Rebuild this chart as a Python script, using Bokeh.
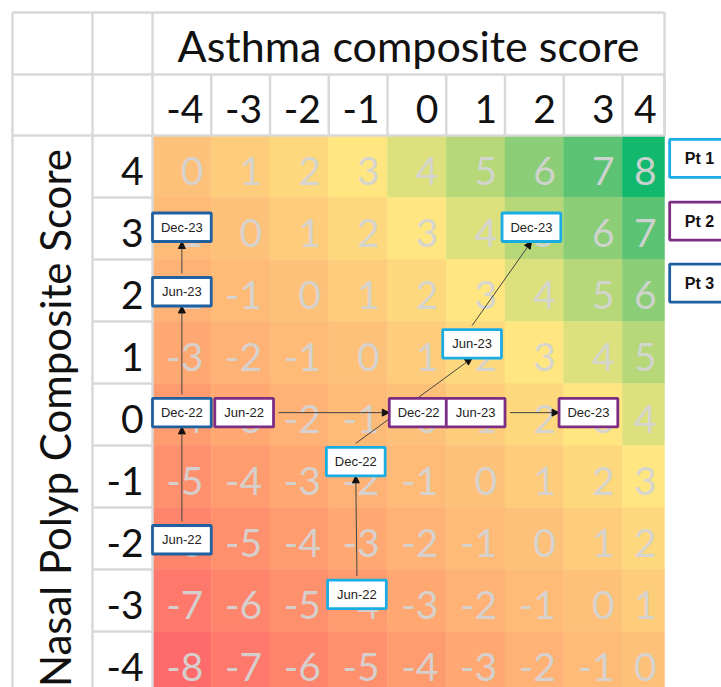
import math
from bokeh.plotting import figure
from bokeh.models import Range1d, ColumnDataSource, Arrow, NormalHead
from bokeh.embed import file_html
from bokeh.resources import INLINE
from bokeh.core.properties import value

# ---------------- data ----------------
asthma_scores = [-4, -3, -2, -1, 0, 1, 2, 3, 4]
nasal_scores = [4, 3, 2, 1, 0, -1, -2, -3, -4]
x_title = "Asthma composite score"
y_title = "Nasal Polyp Composite Score"

# fill colour of a cell by its combined value (-8 .. 8)
value_levels = list(range(-8, 9))
value_colors = ["#FF6B6B", "#FF786C", "#FF846C", "#FF906D", "#FF9C6F", "#FFA872",
                "#FFB275", "#FEBA77", "#FEC17A", "#FECD7B", "#FED87C", "#FFE680",
                "#DCE07D", "#B6D878", "#8BCE77", "#5BC373", "#12B96C"]

patients = ["Pt 1", "Pt 2", "Pt 3"]
patient_colors = ["#1AADE3", "#7E2D84", "#1F60A0"]
visits = ["Jun-22", "Dec-22", "Jun-23", "Dec-23"]
pt1_asthma = [-1, -1, 1, 2]
pt1_nasal = [-3, -1, 1, 3]
pt2_asthma = [-3, 0, 1, 3]
pt2_nasal = [0, 0, 0, 0]
pt3_asthma = [-4, -4, -4, -4]
pt3_nasal = [-2, 0, 2, 3]

# ---------------- layout (display only) ----------------
PXX = 58.75   # px per asthma unit
PXY = 62.0    # px per nasal unit
X0 = -4.5 - 152 / PXX
Y0 = 4.5 + 135 / PXY
def px_x(px):
    return X0 + px / PXX
def px_y(py):
    return Y0 - py / PXY

last_w = 42 / PXX          # last column is narrower
heat_left = -4.5
heat_right = 3.5 + last_w
grid_left = px_x(12)
label_left = px_x(92)
top = px_y(12)
hdr_mid = px_y(74)
heat_top = 4.5
bottom = px_y(700)

# box nudges so labels do not collide
pt_dx = [[-0.02, -0.04, -0.06, -0.05], [0.06, 0.03, 0.0, -0.08], [0, 0, 0, 0]]
pt_dy = [[0.10, 0.24, 0.14, 0.02], [0.03, 0.03, 0.03, 0.03], [-0.02, 0.03, -0.02, 0.02]]

FONT = "Lato"
GRID = "#D9D9D9"

p = figure(width=721, height=687, min_border=0, toolbar_location=None,
           output_backend="svg", x_axis_location=None, y_axis_location=None,
           x_range=Range1d(X0, X0 + 721 / PXX), y_range=Range1d(Y0 - 687 / PXY, Y0))
p.grid.visible = False
p.outline_line_color = None
p.background_fill_color = "white"
p.border_fill_color = "white"

def col_bounds(a):
    left = a - 0.5
    right = a + 0.5 if a < 4 else 3.5 + last_w
    return left, right

# heatmap cells
cx, cy, cw, cc, tx, tt = [], [], [], [], [], []
for n in nasal_scores:
    for a in asthma_scores:
        l, r = col_bounds(a)
        v = a + n
        cx.append((l + r) / 2); cy.append(n); cw.append(r - l)
        cc.append(value_colors[value_levels.index(v)])
        tx.append(r - 8 / PXX); tt.append(str(v))
cells = ColumnDataSource(dict(x=cx, y=cy, w=cw, c=cc, tx=tx, t=tt))
p.rect("x", "y", width="w", height=1.0, fill_color="c", line_color="c", line_width=0.5,
       source=cells)
p.text("tx", "y", text="t", source=cells, text_align="right", text_baseline="middle",
       text_font=value(FONT), text_font_size="39px", text_color="#D4D4D4", text_alpha=0.95,
       y_offset=4)

# grid lines of the table
seg_x0, seg_y0, seg_x1, seg_y1 = [], [], [], []
for yy in [top, hdr_mid, heat_top]:
    seg_x0.append(grid_left); seg_x1.append(heat_right); seg_y0.append(yy); seg_y1.append(yy)
for n in nasal_scores[:-1]:
    seg_x0.append(label_left); seg_x1.append(heat_left); seg_y0.append(n - 0.5); seg_y1.append(n - 0.5)
for xx in [grid_left, label_left, heat_left]:
    seg_x0.append(xx); seg_x1.append(xx); seg_y0.append(top); seg_y1.append(bottom)
for a in asthma_scores:
    l, r = col_bounds(a)
    seg_x0.append(r); seg_x1.append(r); seg_y0.append(hdr_mid); seg_y1.append(heat_top)
seg_x0.append(heat_right); seg_x1.append(heat_right); seg_y0.append(top); seg_y1.append(heat_top)
p.segment(seg_x0, seg_y0, seg_x1, seg_y1, line_color=GRID, line_width=2.5)

# header texts
hx = [col_bounds(a)[1] - 8 / PXX for a in asthma_scores]
p.text(hx, [(hdr_mid + heat_top) / 2] * 9, text=[str(a) for a in asthma_scores],
       text_align="right", text_baseline="middle", text_font=value(FONT),
       text_font_size="39px", text_color="#111111", y_offset=4)
p.text([heat_left - 9 / PXX] * 9, nasal_scores, text=[str(n) for n in nasal_scores],
       text_align="right", text_baseline="middle", text_font=value(FONT),
       text_font_size="39px", text_color="#111111", y_offset=4)
p.text([(heat_left + heat_right) / 2], [(top + hdr_mid) / 2], text=[x_title],
       text_align="center", text_baseline="middle", text_font=value(FONT),
       text_font_size="43px", text_color="#111111", y_offset=2)
p.text([(grid_left + label_left) / 2 + 2 / PXX], [(heat_top + bottom) / 2], text=[y_title],
       angle=math.pi / 2, text_align="center", text_baseline="middle", text_font=value(FONT),
       text_font_size="42px", text_color="#111111")

# patient trajectories
BW, BH = 1.0, 0.46
all_a = [pt1_asthma, pt2_asthma, pt3_asthma]
all_n = [pt1_nasal, pt2_nasal, pt3_nasal]
bx, by, bcol, btxt = [], [], [], []
ax0, ay0, ax1, ay1 = [], [], [], []
for k in range(3):
    xs = [all_a[k][i] + pt_dx[k][i] for i in range(4)]
    ys = [all_n[k][i] + pt_dy[k][i] for i in range(4)]
    for i in range(4):
        bx.append(xs[i]); by.append(ys[i]); bcol.append(patient_colors[k]); btxt.append(visits[i])
    for i in range(3):
        if all_n[k][i] == all_n[k][i + 1]:
            ax0.append(xs[i] + BW / 2 + 5 / PXX); ay0.append(ys[i])
            ax1.append(xs[i + 1] - BW / 2); ay1.append(ys[i + 1])
        else:
            ax0.append(xs[i]); ay0.append(ys[i] + BH / 2 + 4 / PXY)
            ax1.append(xs[i + 1]); ay1.append(ys[i + 1] - BH / 2)

arrows = ColumnDataSource(dict(x0=ax0, y0=ay0, x1=ax1, y1=ay1))
p.add_layout(Arrow(end=NormalHead(size=7, fill_color="#111111", line_color="#111111"),
                   x_start="x0", y_start="y0", x_end="x1", y_end="y1", source=arrows,
                   line_color="#444444", line_width=1))

boxes = ColumnDataSource(dict(x=bx, y=by, c=bcol, t=btxt))
p.rect("x", "y", width=BW, height=BH, fill_color="white", line_color="c", line_width=2.8,
       source=boxes, level="overlay")
p.text("x", "y", text="t", source=boxes, text_align="center", text_baseline="middle",
       text_font=value("Liberation Sans"), text_font_size="13px", text_color="#222222",
       level="overlay")

# legend boxes
lx = heat_right + 35 / PXX
ly = [4.13, 3.12, 2.12]
p.rect([lx + 0.02] * 3, ly, width=62 / PXX, height=38 / PXY, fill_color="white",
       line_color=patient_colors, line_width=2.8)
p.text([lx] * 3, ly, text=patients, text_align="center", text_baseline="middle",
       text_font=value("Liberation Sans"), text_font_size="16px", text_font_style="bold",
       text_color="#111111")

open("out.html", "w").write(file_html(p, INLINE))
